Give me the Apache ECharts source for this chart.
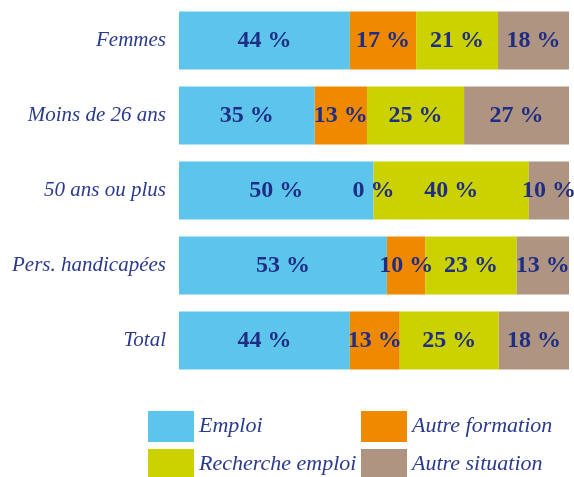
<!DOCTYPE html>
<html>
<head>
<meta charset="utf-8">
<script src="https://cdn.jsdelivr.net/npm/echarts@6/dist/echarts.min.js"></script>
<style>
  html, body { margin: 0; padding: 0; background: #fff; }
  #chart { width: 574px; height: 477px; }
</style>
</head>
<body>
<div id="chart"></div>
<script>
// catégories (de haut en bas)
const categories = ['Femmes', 'Moins de 26 ans', '50 ans ou plus', 'Pers. handicapées', 'Total'];

// parts en %
const emploi          = [43.8, 34.8, 49.9, 53.3, 43.8];
const autreFormation  = [17.0, 13.4, 0,    9.9,  12.8];
const rechercheEmploi = [21.0, 24.9, 39.8, 23.4, 25.4];
const autreSituation  = [18.2, 26.9, 10.3, 13.4, 18.0];

const seriesNames = ['Emploi', 'Autre formation', 'Recherche emploi', 'Autre situation'];
const seriesData = [emploi, autreFormation, rechercheEmploi, autreSituation];
const colors = ['#5DC5EC', '#EF8900', '#CBD200', '#AE9481'];

const textBlue = '#2B3A8F';
const labelBlue = '#1F2D84';
const serif = '"Liberation Serif", "DejaVu Serif", serif';

const chart = echarts.init(document.getElementById('chart'));

const series = seriesNames.map((name, i) => ({
  name: name,
  type: 'bar',
  stack: 'total',
  barWidth: 58,
  data: seriesData[i],
  itemStyle: { color: colors[i] },
  label: {
    show: true,
    position: 'inside',
    formatter: p => Math.round(p.value) + ' %',
    color: labelBlue,
    fontFamily: serif,
    fontWeight: 'bold',
    fontSize: 24
  }
}));

// une légende par entrée pour reproduire la grille 2x2
const legendPos = [[148, 411], [361, 411], [148, 449], [361, 449]];
const legends = seriesNames.map((name, i) => ({
  left: legendPos[i][0],
  top: legendPos[i][1],
  padding: 0,
  itemWidth: 46,
  itemHeight: 31,
  itemGap: 7,
  icon: 'rect',
  selectedMode: false,
  data: [name],
  textStyle: {
    color: textBlue,
    fontFamily: serif,
    fontStyle: 'italic',
    fontSize: 22
  }
}));

chart.setOption({
  animation: false,
  color: colors,
  grid: {
    left: 179,
    right: 5,
    top: 3,
    height: 375
  },
  xAxis: {
    type: 'value',
    min: 0,
    max: 100,
    show: false
  },
  yAxis: {
    type: 'category',
    inverse: true,
    data: categories,
    axisLine: { show: false },
    axisTick: { show: false },
    axisLabel: {
      margin: 13,
      color: textBlue,
      fontFamily: serif,
      fontStyle: 'italic',
      fontSize: 21
    }
  },
  legend: legends,
  series: series
});
</script>
</body>
</html>
